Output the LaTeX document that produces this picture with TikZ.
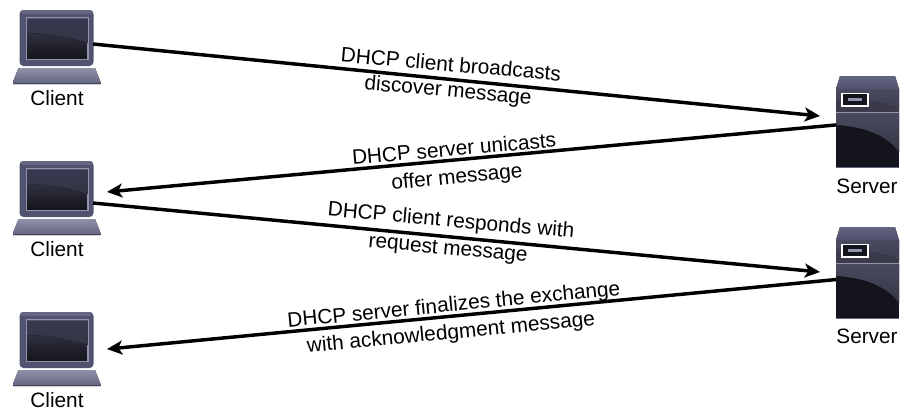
\documentclass[tikz,border=0pt]{standalone}
\usepackage{fontspec}
\setmainfont{Liberation Sans}
\usetikzlibrary{arrows.meta}
\definecolor{bodyc}{HTML}{50526F}
\definecolor{edgec}{HTML}{9294AE}
\definecolor{keyt}{HTML}{8F91A9}
\definecolor{keyb}{HTML}{62647F}
\definecolor{darkc}{HTML}{14141C}
\definecolor{midc}{HTML}{4A4B60}
\tikzset{
  x=0.75pt,y=-0.75pt,
  lab/.style={font=\fontsize{15.6pt}{18pt}\selectfont,inner sep=0pt,text=black},
  anchorbox/.style={inner sep=0pt,outer sep=0pt,minimum width=54.75pt,minimum height=41.25pt},
  srvbox/.style={inner sep=0pt,outer sep=0pt,minimum width=47.25pt,minimum height=69pt},
  link/.style={line width=2.6pt,-{Stealth[length=11.5pt,width=10.5pt,inset=3pt]},shorten >=0pt},
  pics/laptop/.style={code={
    \fill[bodyc,rounded corners=3pt] (-37,-28) rectangle (37,28);
    \fill[bodyc!70!edgec,rounded corners=2pt] (-36,-28) rectangle (36,-24);
    \draw[edgec,line width=0.8pt,bottom color=darkc,top color=midc!80!darkc] (-30,-20) rectangle (31.5,21.5);
    \fill[top color=midc!110!white,bottom color=midc!60!darkc] (-29.5,-19.5) -- (31,-19.5) -- (31,5) .. controls (12,-1) and (-10,-5) .. (-29.5,-5) -- cycle;
    \fill[top color=keyt,bottom color=keyb] (-38,30) -- (38.5,30) -- (44,44) -- (44,46) -- (-43.5,46) -- (-43.5,44) -- cycle;
    \fill[keyb!70!black] (-43.5,44.5) -- (44,44.5) -- (44,46) -- (-43.5,46) -- cycle;
  }},
  pics/server/.style={code={
    \fill[top color=keyb,bottom color=bodyc] (-27,-46) -- (28,-46) -- (32,-33) -- (-31,-33) -- cycle;
    \fill[darkc] (-31,-33) rectangle (32,46);
    \fill[top color=midc,bottom color=midc!75!darkc] (-31,-33) -- (32,-33) -- (32,-13) .. controls (20,-19) and (5,-22) .. (-31,-22) -- cycle;
    \fill[midc!70!darkc] (-31,-22) .. controls (5,-22) and (20,-19) .. (32,-13) -- (32,-10) -- (-31,-10) -- cycle;
    \fill[top color=midc,bottom color=midc!60!darkc] (-31,-10) -- (32,-10) -- (32,30) .. controls (20,14) and (0,5) .. (-31,3) -- cycle;
    \fill[edgec] (-31,-10.5) rectangle (32,-9);
    \fill[keyb] (-31,44.5) rectangle (32,46);
    \draw[white,line width=1.2pt,fill=darkc] (-25,-28.5) rectangle (1,-16);
    \fill[edgec] (-19,-24) rectangle (-5,-21);
  }}
}
\begin{document}
\begin{tikzpicture}
\useasboundingbox (0,0) rectangle (914,415);
% clients
\foreach \n/\yy in {1/38,2/189,3/340}{
  \pic at (56.5,\yy) {laptop};
  \node[anchorbox] (c\n) at (56.5,\yy) {};
}
\node[lab] (t1) at (57,98) {Client};
\node[lab] (t2) at (57,249) {Client};
\node[lab] (t3) at (57,400) {Client};
% servers
\foreach \n/\yy in {1/122,2/273}{
  \pic at (867,\yy) {server};
  \node[srvbox] (s\n) at (867.5,\yy) {};
}
\node[lab] (t4) at (867,186) {Server};
\node[lab] (t5) at (867,336) {Server};
% connectors
\draw[link] ([yshift=-4.5pt]c1.east) -- ([xshift=-12pt,yshift=4.5pt]s1.west);
\draw[link] ([yshift=-2.2pt]s1.west) -- ([xshift=10.5pt,yshift=-2.2pt]c2.east);
\draw[link] ([yshift=-10.5pt]c2.east) -- ([xshift=-12pt,yshift=0.75pt]s2.west);
\draw[link] ([yshift=-4.9pt]s2.west) -- ([xshift=10.5pt,yshift=-6.8pt]c3.east);
% labels
\node[lab,rotate=-5] (l1) at (451,64) {DHCP client broadcasts};
\node[lab,rotate=-5] (l2) at (448,91.6) {discover message};
\node[lab,rotate=5.1] (l3) at (454,148.4) {DHCP server unicasts};
\node[lab,rotate=5.5] (l4) at (457,178) {offer message};
\node[lab,rotate=-5.1] (l5) at (451,221.6) {DHCP client responds with};
\node[lab,rotate=-5.3] (l6) at (448,250) {request message};
\node[lab,rotate=5.5] (l7) at (454,306) {DHCP server finalizes the exchange};
\node[lab,rotate=5.5] (l8) at (451,333.6) {with acknowledgment message};
\end{tikzpicture}
\end{document}
